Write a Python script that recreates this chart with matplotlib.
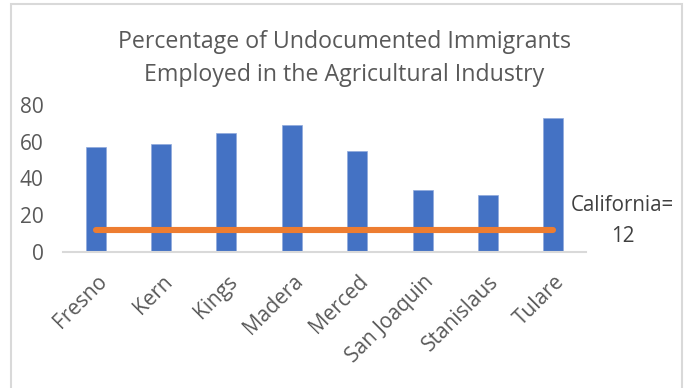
import matplotlib
matplotlib.use("Agg")
import matplotlib.pyplot as plt
from matplotlib.patches import Rectangle
from matplotlib.transforms import ScaledTranslation

counties = ["Fresno", "Kern", "Kings", "Madera", "Merced", "San Joaquin", "Stanislaus", "Tulare"]
percent = [57, 59, 65, 69, 55, 34, 31, 73]
california = [12] * len(counties)
yticks = [0, 20, 40, 60, 80]

plt.rcParams['font.family'] = ['Open Sans', 'DejaVu Sans']
gray = '#595959'

fig = plt.figure(figsize=(6.89, 3.88), dpi=100)
fig.patches.append(Rectangle((11 / 689, -0.05), 671 / 689, 1.05 - 4 / 388, transform=fig.transFigure,
                             fill=False, edgecolor='#d9d9d9', linewidth=1.5))

ax = fig.add_axes([63 / 689, 1 - 252 / 388, 523 / 689, 147 / 388])
x = list(range(len(counties)))
ax.bar(x, percent, width=0.306, color='#4472C4', edgecolor='#8fa9dc', linewidth=0.5, zorder=2)
ax.plot(x, california, color='#ED7D31', linewidth=4.4, solid_capstyle='round', zorder=3)

ax.set_xlim(-0.5, len(counties) - 0.5)
ax.set_ylim(0, 80)
ax.set_yticks(yticks)
ax.set_xticks(x)
ax.set_xticklabels(counties, rotation=45, ha='right', va='center', rotation_mode='anchor',
                   fontsize=15, color=gray)
ax.tick_params(axis='x', length=0, pad=19)
ax.tick_params(axis='y', length=0, labelsize=15, labelcolor=gray, pad=14)
offset = ScaledTranslation(0.08, 0, fig.dpi_scale_trans)
for lbl in ax.get_xticklabels():
    lbl.set_transform(lbl.get_transform() + offset)
for s in ['top', 'right', 'left']:
    ax.spines[s].set_visible(False)
ax.spines['bottom'].set_color('#d9d9d9')
ax.spines['bottom'].set_linewidth(1.5)

fig.text(0.5, 1 - 58.5 / 388, "Percentage of Undocumented Immigrants\nEmployed in the Agricultural Industry",
         ha='center', va='center', fontsize=16.7, color=gray, linespacing=1.55)
fig.text(622.5 / 689, 1 - 221 / 388, "California=\n12", ha='center', va='center', fontsize=14.8,
         color='#404040', linespacing=1.6)

fig.savefig("out.png", dpi=100)
